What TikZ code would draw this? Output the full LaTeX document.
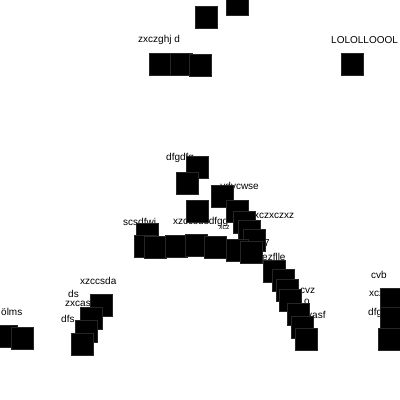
\documentclass[tikz,border=0pt]{standalone}
\usepackage{fontspec}
\setmainfont{Liberation Sans}
\begin{document}
\begin{tikzpicture}[x=1pt,y=-1pt,
  sq/.style={fill=black,draw=black!85,line width=0.4pt,minimum size=22pt,inner sep=0pt,outer sep=0pt},
  lbl/.style={font=\fontsize{10}{11}\selectfont,inner sep=0pt,text=black}]
\useasboundingbox (0,0) rectangle (400,400);
\begin{scope}
\clip (0,0) rectangle (400,400);
% labels (drawn below squares)
\node[lbl,anchor=west] (t1) at (138,40) {zxczghj d};
\node[lbl,anchor=west] (t2) at (331,40) {LOLOLLOOOL};
\node[lbl,anchor=west] (t3) at (166,158) {dfgdfg};
\node[lbl,anchor=east] (t4) at (259,186) {vdvcwse};
\node[lbl,anchor=west] (t5) at (254,216) {xczxczxz};
\node[lbl,anchor=west] (t6) at (123,222) {scsdfwi};
\node[lbl,anchor=west] (t7) at (173,222) {xzccsdsdfgg};
\node[lbl,anchor=west,font=\fontsize{7}{8}\selectfont] (t8) at (219,228) {xcz};
\node[lbl,anchor=west] (t9) at (250,228) {o};
\node[lbl,anchor=west] (t10) at (264,243) {7};
\node[lbl,anchor=west] (t11) at (262,257) {ezflle};
\node[lbl,anchor=west] (t12) at (300,291) {cvz};
\node[lbl,anchor=west] (t13) at (304,302) {o};
\node[lbl,anchor=west] (t14) at (307,315) {vasf};
\node[lbl,anchor=west] (t15) at (1,312) {ölms};
\node[lbl,anchor=west] (t16) at (80,281) {xzccsda};
\node[lbl,anchor=west] (t17) at (68,294) {ds};
\node[lbl,anchor=west] (t18) at (65,304) {zxcas};
\node[lbl,anchor=west] (t19) at (61,319) {dfs};
\node[lbl,anchor=west] (t20) at (371,275) {cvb};
\node[lbl,anchor=west] (t21) at (369,294) {xcz};
\node[lbl,anchor=west] (t22) at (368,313) {dfg};
% squares
\node[sq] (s1) at (206,17) {};
\node[sq] (s2) at (237,4) {};
\node[sq] (s3) at (160,64) {};
\node[sq] (s4) at (181,64) {};
\node[sq] (s5) at (200,65) {};
\node[sq] (s6) at (352,64) {};
\node[sq] (s7) at (197,167) {};
\node[sq] (s8) at (187,183) {};
\node[sq] (s9) at (197,211) {};
\node[sq] (s10) at (222,196) {};
\node[sq] (s11) at (237,211) {};
\node[sq] (s12) at (244,222) {};
\node[sq] (s12b) at (249,231) {};
\node[sq] (s13) at (254,240) {};
\node[sq] (s14) at (147,234) {};
\node[sq] (s15) at (145,246) {};
\node[sq] (s16) at (155,247) {};
\node[sq] (s17) at (176,246) {};
\node[sq] (s18) at (196,245) {};
\node[sq] (s19) at (215,247) {};
\node[sq] (s20) at (237,250) {};
\node[sq] (s21) at (251,252) {};
\node[sq] (s22) at (274,271) {};
\node[sq] (s23) at (283,280) {};
\node[sq] (s23b) at (287,290) {};
\node[sq] (s24) at (290,300) {};
\node[sq] (s25) at (298,314) {};
\node[sq] (s25b) at (302,327) {};
\node[sq] (s26) at (306,339) {};
\node[sq] (s27) at (6,336) {};
\node[sq] (s28) at (22,338) {};
\node[sq] (s29) at (101,305) {};
\node[sq] (s30) at (91,318) {};
\node[sq] (s31) at (86,331) {};
\node[sq] (s32) at (82,344) {};
\node[sq] (s33) at (391,299) {};
\node[sq] (s34) at (391,318) {};
\node[sq] (s35) at (389,339) {};
\end{scope}
\end{tikzpicture}
\end{document}
